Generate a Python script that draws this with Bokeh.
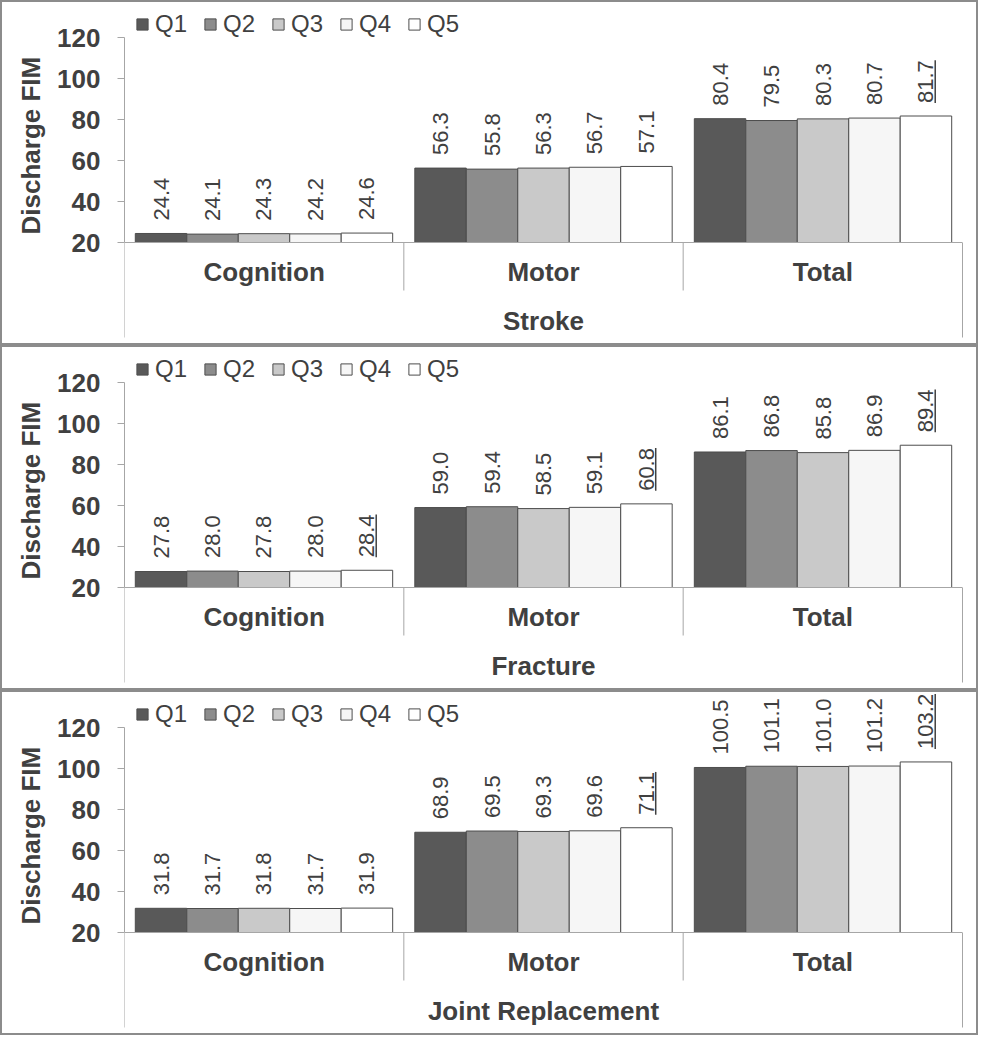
import math
from bokeh.plotting import figure
from bokeh.models import (FactorRange, Range1d, LinearAxis, CategoricalAxis, FixedTicker,
                          ColumnDataSource, Legend, LegendItem, Title)
from bokeh.layouts import column
from bokeh.embed import file_html
from bokeh.resources import INLINE
from bokeh.core.properties import value

# ---------------- data ----------------
categories = ["Cognition", "Motor", "Total"]
quintiles = ["Q1", "Q2", "Q3", "Q4", "Q5"]
diagnoses = ["Stroke", "Fracture", "Joint Replacement"]
y_ticks = [20, 40, 60, 80, 100, 120]

stroke_cognition = [24.4, 24.1, 24.3, 24.2, 24.6]
stroke_motor = [56.3, 55.8, 56.3, 56.7, 57.1]
stroke_total = [80.4, 79.5, 80.3, 80.7, 81.7]
stroke_underlined = [("Total", "Q5")]

fracture_cognition = [27.8, 28.0, 27.8, 28.0, 28.4]
fracture_motor = [59.0, 59.4, 58.5, 59.1, 60.8]
fracture_total = [86.1, 86.8, 85.8, 86.9, 89.4]
fracture_underlined = [("Cognition", "Q5"), ("Motor", "Q5"), ("Total", "Q5")]

joint_cognition = [31.8, 31.7, 31.8, 31.7, 31.9]
joint_motor = [68.9, 69.5, 69.3, 69.6, 71.1]
joint_total = [100.5, 101.1, 101.0, 101.2, 103.2]
joint_underlined = [("Motor", "Q5"), ("Total", "Q5")]

# ---------------- style ----------------
colors = ["#595959", "#8c8c8c", "#c9c9c9", "#f6f6f6", "#ffffff"]
TXT = "#404040"
AX = "#a6a6a6"
FONT = "Liberation Sans"
W, H = 978, 345
PPU = 2.05
Y1 = 120 + 35 / PPU
Y0 = Y1 - H / PPU
SEP_END = 20 - 48 / PPU
EDGE_END = 20 - 95 / PPU
GP = 0.43
LAB_FS = 22
LAB_OFF = 13


def text_len(s, fs):
    w = sum(0.278 if ch == "." else 0.556 for ch in s)
    return w * fs


def make_panel(name, cog, mot, tot, underlined):
    factors = [(c, q) for c in categories for q in quintiles]
    xr = FactorRange(*factors, group_padding=GP, factor_padding=0.0,
                     range_padding=0.21, range_padding_units="absolute")
    p = figure(width=W, height=H, x_range=xr, y_range=Range1d(Y0, Y1),
               output_backend="svg", toolbar_location=None,
               x_axis_location=None, y_axis_location=None,
               min_border_left=122, min_border_right=18,
               min_border_top=0, min_border_bottom=0,
               styles={"border": "2px solid #8c8c8c"})
    p.extra_x_ranges = {"cats": FactorRange(*categories, range_padding=0)}
    p.outline_line_color = None
    p.background_fill_color = "white"
    p.border_fill_color = "white"
    p.xgrid.visible = False
    p.ygrid.visible = False

    # y axis (values)
    ya = LinearAxis(bounds=(20, 120), ticker=FixedTicker(ticks=y_ticks))
    ya.axis_line_color = AX
    ya.major_tick_line_color = AX
    ya.major_tick_out = 7
    ya.major_tick_in = 0
    ya.minor_tick_line_color = None
    ya.major_label_text_font = FONT
    ya.major_label_text_font_size = "26px"
    ya.major_label_text_font_style = "bold"
    ya.major_label_text_color = TXT
    ya.major_label_standoff = 17
    p.add_layout(ya, "left")

    # y axis title, placed along the 20-120 span
    p.add_layout(Title(text="Discharge FIM", align="left", offset=113,
                       standoff=18, text_font=FONT, text_font_size="26px",
                       text_font_style="bold", text_color=TXT), "left")

    # left edge line below the category axis
    la = LinearAxis(bounds=(EDGE_END, 20), ticker=FixedTicker(ticks=[]),
                    x_range_name="cats", fixed_location=0)
    la.axis_line_color = AX
    la.major_tick_line_color = None
    la.minor_tick_line_color = None
    p.add_layout(la, "left")

    # right edge line below the category axis
    ra = LinearAxis(bounds=(EDGE_END, 20), ticker=FixedTicker(ticks=[]))
    ra.axis_line_color = AX
    ra.major_tick_line_color = None
    ra.minor_tick_line_color = None
    p.add_layout(ra, "right")

    # category axis at y = 20
    xa = CategoricalAxis(x_range_name="cats", fixed_location=20)
    xa.axis_line_color = AX
    xa.major_tick_line_color = None
    xa.minor_tick_line_color = None
    xa.major_label_standoff = 8
    xa.major_label_text_font = FONT
    xa.major_label_text_font_size = "26px"
    xa.major_label_text_font_style = "bold"
    xa.major_label_text_color = TXT
    xa.axis_label = name
    xa.axis_label_text_font = FONT
    xa.axis_label_text_font_size = "26px"
    xa.axis_label_text_font_style = "bold"
    xa.axis_label_text_color = TXT
    xa.axis_label_standoff = 16
    p.add_layout(xa, "below")

    # separators between categories
    sep_x = [(c, 0.5) for c in categories[:-1]]
    p.segment(x0=sep_x, x1=sep_x, y0=[20] * len(sep_x), y1=[SEP_END] * len(sep_x),
              line_color=AX, line_width=1, x_range_name="cats")

    series = [cog, mot, tot]
    items = []
    for i, q in enumerate(quintiles):
        src = ColumnDataSource(dict(x=[(c, q) for c in categories],
                                    top=[s[i] for s in series]))
        r = p.vbar(x="x", top="top", bottom=20, width=1.0, source=src,
                   fill_color=colors[i], line_color="#4d4d4d", line_width=1)
        items.append(LegendItem(label=q, renderers=[r]))

    # value labels
    lx, ly, lt = [], [], []
    for ci, c in enumerate(categories):
        for qi, q in enumerate(quintiles):
            lx.append((c, q))
            ly.append(series[ci][qi])
            lt.append(f"{series[ci][qi]:.1f}")
    p.text(x=lx, y=ly, text=lt, angle=math.pi / 2, text_align="left",
           text_baseline="middle", y_offset=-LAB_OFF,
           text_font=value(FONT), text_font_size=f"{LAB_FS}px", text_color=TXT)

    # underlines for marked values
    ux, uy, uh = [], [], []
    for (c, q) in underlined:
        v = series[categories.index(c)][quintiles.index(q)]
        L = text_len(f"{v:.1f}", LAB_FS)
        ux.append((c, q, 0.18))
        uy.append(v + (LAB_OFF + L / 2) / PPU)
        uh.append(L)
    if ux:
        p.rect(x=ux, y=uy, width=1.5, height=uh, width_units="screen",
               height_units="screen", fill_color=TXT, line_color=None)

    leg = Legend(items=items, orientation="horizontal", location=(11, H - 36))
    leg.background_fill_alpha = 0
    leg.border_line_color = None
    leg.padding = 0
    leg.margin = 0
    leg.spacing = 16
    leg.label_standoff = 6
    leg.glyph_width = 14
    leg.glyph_height = 14
    leg.label_text_font = FONT
    leg.label_text_font_size = "24px"
    leg.label_text_color = TXT
    p.add_layout(leg, "center")
    return p


p1 = make_panel(diagnoses[0], stroke_cognition, stroke_motor, stroke_total, stroke_underlined)
p2 = make_panel(diagnoses[1], fracture_cognition, fracture_motor, fracture_total, fracture_underlined)
p3 = make_panel(diagnoses[2], joint_cognition, joint_motor, joint_total, joint_underlined)

layout = column(p1, p2, p3, spacing=0)
open("out.html", "w").write(file_html(layout, INLINE))
